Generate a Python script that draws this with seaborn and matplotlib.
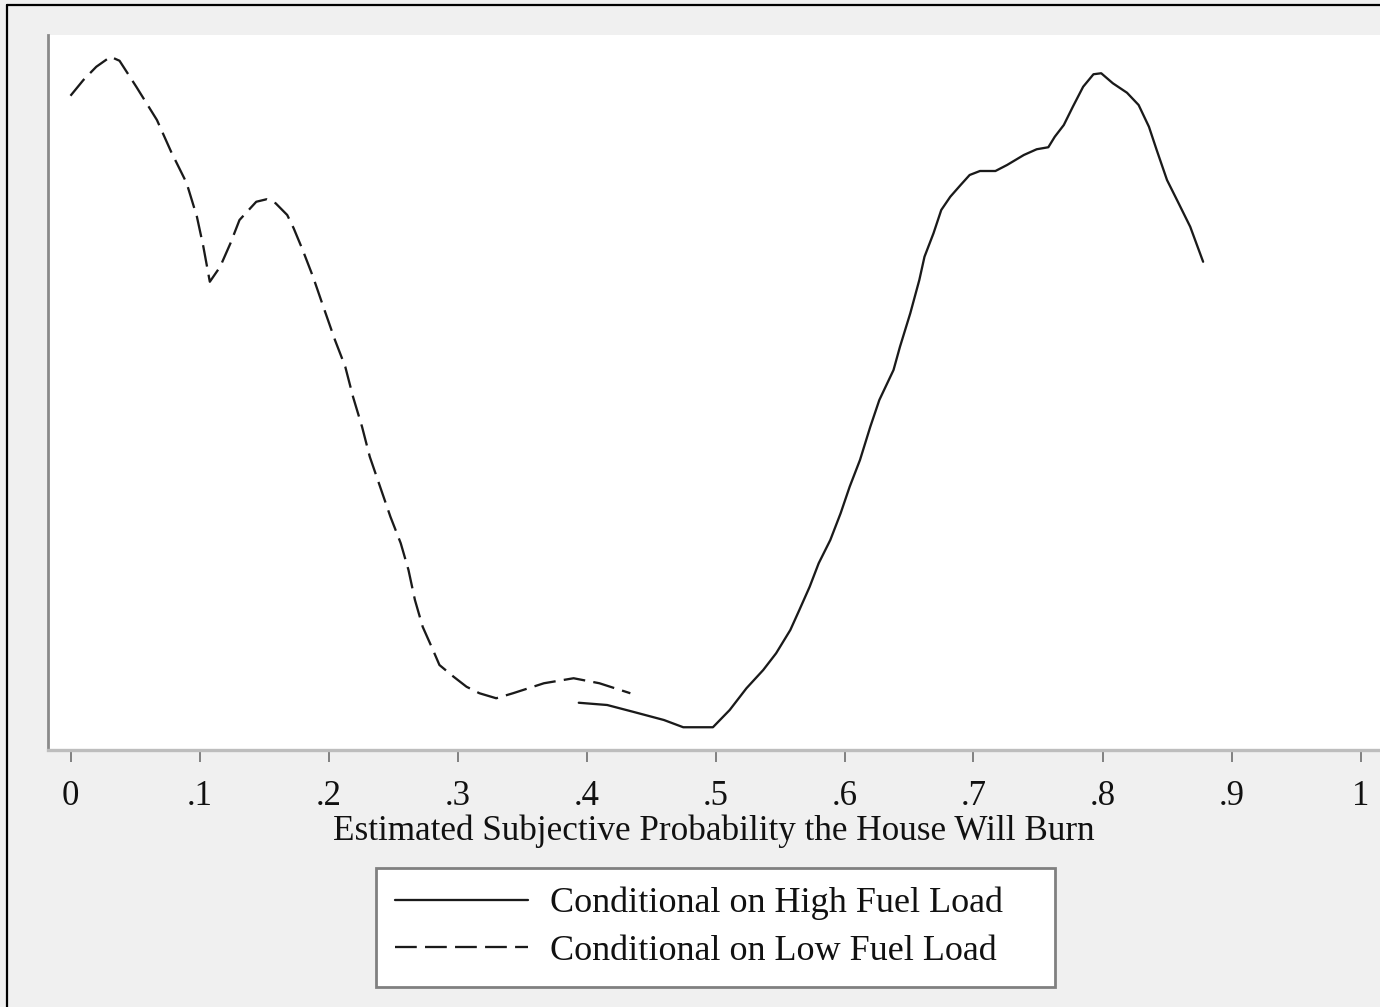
import matplotlib
matplotlib.use("Agg")
import matplotlib.pyplot as plt
from matplotlib.lines import Line2D
import seaborn as sns
import pandas as pd

# ---- data (kernel density curves) ----
x_low = [0.000, 0.010, 0.020, 0.031, 0.038, 0.051, 0.067, 0.078, 0.090, 0.098,
         0.103, 0.108, 0.116, 0.124, 0.131, 0.144, 0.152, 0.159, 0.168, 0.173,
         0.180, 0.188, 0.196, 0.205, 0.213, 0.219, 0.226, 0.232, 0.240, 0.248,
         0.256, 0.262, 0.267, 0.273, 0.281, 0.286, 0.297, 0.307, 0.317, 0.330,
         0.343, 0.367, 0.390, 0.410, 0.434]
y_low = [2.617, 2.680, 2.733, 2.773, 2.757, 2.653, 2.520, 2.393, 2.268, 2.133,
         2.013, 1.873, 1.933, 2.027, 2.120, 2.193, 2.203, 2.187, 2.140, 2.087,
         2.000, 1.893, 1.773, 1.640, 1.533, 1.413, 1.293, 1.173, 1.053, 0.933,
         0.827, 0.720, 0.600, 0.493, 0.400, 0.340, 0.293, 0.253, 0.227, 0.207,
         0.227, 0.267, 0.287, 0.267, 0.227]

x_high = [0.394, 0.416, 0.436, 0.460, 0.475, 0.498, 0.511, 0.524, 0.537, 0.547,
          0.558, 0.565, 0.573, 0.580, 0.589, 0.597, 0.604, 0.612, 0.620, 0.627,
          0.638, 0.643, 0.651, 0.658, 0.662, 0.669, 0.675, 0.682, 0.690, 0.697,
          0.705, 0.717, 0.726, 0.739, 0.749, 0.758, 0.763, 0.770, 0.777, 0.785,
          0.793, 0.799, 0.808, 0.819, 0.828, 0.836, 0.842, 0.850, 0.859, 0.868,
          0.878]
y_high = [0.189, 0.180, 0.153, 0.120, 0.091, 0.091, 0.160, 0.247, 0.320, 0.387,
          0.480, 0.560, 0.653, 0.747, 0.840, 0.947, 1.053, 1.160, 1.293, 1.400,
          1.520, 1.613, 1.747, 1.880, 1.973, 2.067, 2.160, 2.213, 2.260, 2.300,
          2.316, 2.316, 2.340, 2.380, 2.403, 2.411, 2.453, 2.500, 2.573, 2.653,
          2.703, 2.707, 2.667, 2.629, 2.580, 2.493, 2.400, 2.280, 2.187, 2.093,
          1.953]

tick_values = [0, 0.1, 0.2, 0.3, 0.4, 0.5, 0.6, 0.7, 0.8, 0.9, 1.0]
tick_labels = ["0", ".1", ".2", ".3", ".4", ".5", ".6", ".7", ".8", ".9", "1"]
x_title = "Estimated Subjective Probability the House Will Burn"
label_high = "Conditional on High Fuel Load"
label_low = "Conditional on Low Fuel Load"

sns.set_theme(style="white")
plt.rcParams["font.family"] = ["Liberation Serif", "DejaVu Serif"]

W, H = 1380, 1007
BG = "#f0f0f0"
fig = plt.figure(figsize=(W / 100, H / 100), dpi=100, facecolor=BG)

left_px, top_px, bottom_px = 48, 35, 750
ax = fig.add_axes([left_px / W, 1 - bottom_px / H, (W - left_px) / W, (bottom_px - top_px) / H])
ax.set_facecolor("white")

df_low = pd.DataFrame({"x": x_low, "y": y_low})
df_high = pd.DataFrame({"x": x_high, "y": y_high})

line_color = "#1a1a1a"
lw = 1.65
dash = (0, (9.5, 3.6))
sns.lineplot(data=df_low, x="x", y="y", ax=ax, color=line_color, lw=lw,
             linestyle=dash, sort=False, legend=False)
sns.lineplot(data=df_high, x="x", y="y", ax=ax, color=line_color, lw=lw,
             sort=False, legend=False)

x0 = 70.5
scale = 1290.0
ax.set_xlim((left_px - x0) / scale, (W - x0) / scale)
ax.set_ylim(0, (bottom_px - top_px) / 250.0)

ax.set_xticks(tick_values)
ax.set_xticklabels(tick_labels)
ax.set_yticks([])
ax.tick_params(axis="x", direction="out", length=8.6, width=1.4, color="#808080",
               labelsize=25, labelcolor="#111111", pad=13, bottom=True)
ax.set_ylabel("")
ax.set_xlabel(x_title, fontsize=25.3, color="#111111", labelpad=1)

for s in ["top", "right"]:
    ax.spines[s].set_visible(False)
ax.spines["left"].set_color("#8a8a8a")
ax.spines["left"].set_linewidth(2.0)
ax.spines["bottom"].set_color("#bdbdbd")
ax.spines["bottom"].set_linewidth(2.4)

handles = [Line2D([], [], color=line_color, lw=lw),
           Line2D([], [], color=line_color, lw=lw, linestyle=dash)]
leg = ax.legend(handles, [label_high, label_low],
                loc="upper left",
                bbox_to_anchor=(376 / W, 1 - 868 / H - 0.01, 679 / W, 0.01),
                bbox_transform=fig.transFigure, mode="expand",
                fontsize=26, frameon=True, fancybox=False, framealpha=1,
                facecolor="white", edgecolor="#808080",
                handlelength=3.7, handletextpad=0.6, borderpad=0.52,
                labelspacing=0.4, borderaxespad=0)
leg.get_frame().set_linewidth(2.0)
for t in leg.get_texts():
    t.set_color("#111111")

# outer figure border (cropped screenshot look)
fig.add_artist(Line2D([7 / W, 7 / W], [0, 1 - 5 / H], transform=fig.transFigure,
                      color="black", lw=1.6))
fig.add_artist(Line2D([7 / W, 1], [1 - 5 / H, 1 - 5 / H], transform=fig.transFigure,
                      color="black", lw=1.6))

fig.savefig("out.png", dpi=100, facecolor=BG)
